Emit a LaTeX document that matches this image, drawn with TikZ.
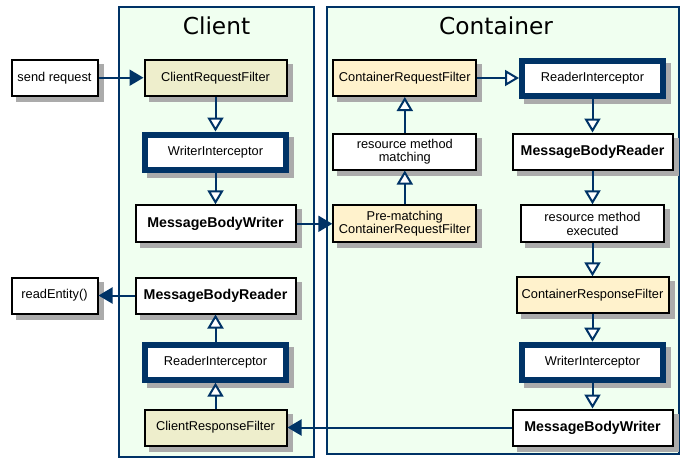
\documentclass[tikz,border=0pt]{standalone}
\usepackage{fontspec}
\setmainfont{Liberation Sans}
\newfontfamily\titlefont{DejaVu Sans}
\usetikzlibrary{arrows.meta,shadows}
\definecolor{navy}{HTML}{003366}
\definecolor{sidebg}{HTML}{F0FFF0}
\definecolor{clientfill}{HTML}{EEEECC}
\definecolor{serverfill}{HTML}{FFF2CC}
\tikzstyle{box}=[draw=black,line width=2pt,fill=white,inner sep=0pt,minimum height=36pt,
  font=\fontsize{12.8}{13.5}\selectfont,align=center,
  general shadow={fill=black!33,draw=black!33,shadow xshift=5pt,shadow yshift=-5pt}]
\tikzstyle{bigbox}=[box,font=\fontsize{14.2}{16}\bfseries\selectfont]
\tikzstyle{clientfilter}=[box,fill=clientfill]
\tikzstyle{serverfilter}=[box,fill=serverfill]
\tikzstyle{interceptor}=[box,draw=navy,line width=6pt,minimum width=141pt,minimum height=35pt]
\tikzstyle{side}=[draw=navy,line width=2pt,fill=sidebg]
\tikzstyle{title}=[font=\titlefont\fontsize{23.3}{26}\selectfont,inner sep=0pt]
\tikzstyle{flow}=[navy,line width=2pt,-{Triangle[fill=white,length=14pt,width=16pt,line width=2pt]}]
\tikzstyle{call}=[navy,line width=2pt,-{Triangle[length=14pt,width=16pt]}]

\begin{document}
\begin{tikzpicture}[x=1pt,y=-1pt]
\useasboundingbox (0, 0) rectangle (690, 466);
\draw[side] (119.3, 7) rectangle (314, 456.7);
\draw[side] (326.7, 7) rectangle (678.5, 454.3);
\node[title] at (216.5, 25.5) (clienttitle) {Client};
\node[title] at (496, 25.5) (containertitle) {Container};
% client side
\node[box, minimum width=86pt] at (54.5, 77.7) (send) {send request};
\node[clientfilter, minimum width=142pt] at (215.5, 77.7) (creqf) {ClientRequestFilter};
\node[interceptor] at (215.5, 152) (cwi) {WriterInterceptor};
\node[bigbox, minimum width=160pt, minimum height=37pt] at (215.5, 223.8) (cmbw) {MessageBodyWriter};
\node[bigbox, minimum width=160pt] at (215.5, 295.5) (cmbr) {MessageBodyReader};
\node[box, minimum width=86pt] at (54.5, 295.5) (entity) {readEntity()};
\node[interceptor] at (215.5, 362.2) (cri) {ReaderInterceptor};
\node[clientfilter, minimum width=142pt] at (215.5, 427.5) (cresf) {ClientResponseFilter};
% container side
\node[serverfilter, minimum width=143pt] at (404.8, 78) (sreqf) {ContainerRequestFilter};
\node[interceptor] at (592.5, 78) (sri) {ReaderInterceptor};
\node[box, minimum width=143pt] at (404.8, 151.5) (match) {resource method\\matching};
\node[bigbox, minimum width=160pt] at (592.5, 151.5) (smbr) {MessageBodyReader};
\node[serverfilter, minimum width=143pt, minimum height=37pt] at (404.8, 223.8) (prematch) {Pre-matching\\ContainerRequestFilter};
\node[box, minimum width=143pt, minimum height=37pt] at (592.5, 223.8) (exec) {resource method\\executed};
\node[serverfilter, minimum width=152pt] at (592.5, 295.3) (sresf) {ContainerResponseFilter};
\node[interceptor] at (592.5, 362.2) (swi) {WriterInterceptor};
\node[bigbox, minimum width=160pt] at (592.5, 427.5) (smbw) {MessageBodyWriter};
% request
\draw[call] (send) edge (creqf);
\draw[flow] (creqf) edge (cwi);
\draw[flow] (cwi) edge (cmbw);
\draw[call] (cmbw) edge (prematch);
\draw[flow] (prematch) edge (match);
\draw[flow] (match) edge (sreqf);
\draw[flow] (sreqf) edge (sri);
\draw[flow] (sri) edge (smbr);
\draw[flow] (smbr) edge (exec);
% response
\draw[flow] (exec) edge (sresf);
\draw[flow] (sresf) edge (swi);
\draw[flow] (swi) edge (smbw);
\draw[call] (smbw) edge (cresf);
\draw[flow] (cresf) edge (cri);
\draw[flow] (cri) edge (cmbr);
\draw[call] (cmbr) edge (entity);
\end{tikzpicture}
\end{document}
